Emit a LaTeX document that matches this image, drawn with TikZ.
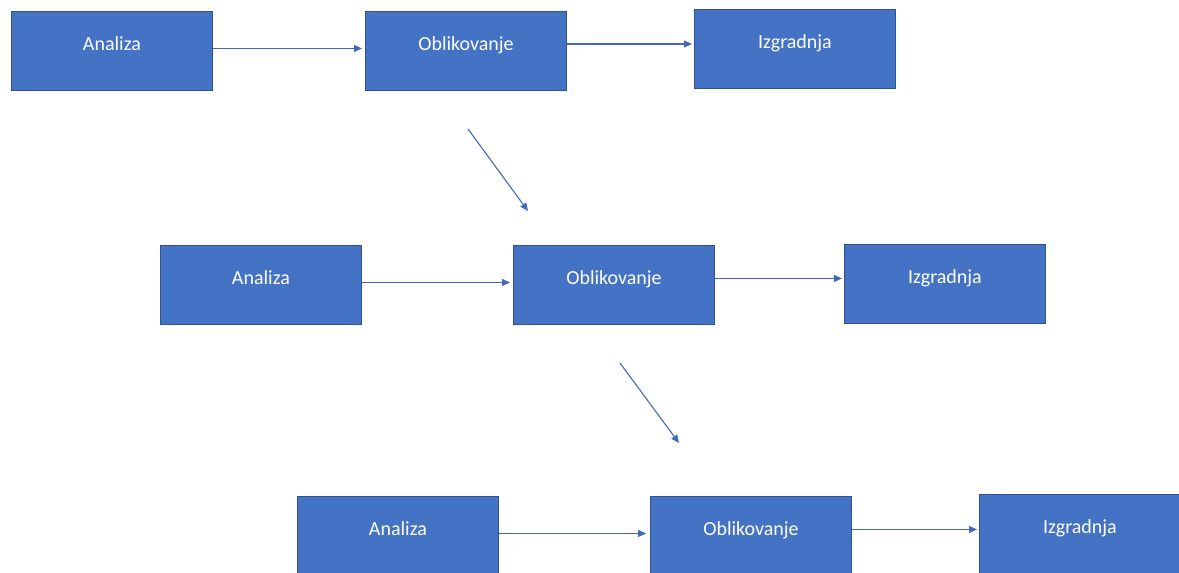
\documentclass[tikz,border=0pt]{standalone}
\usepackage{fontspec}
\setmainfont{Carlito}
\usetikzlibrary{arrows.meta}
\definecolor{boxblue}{HTML}{4472C4}
\definecolor{boxedge}{HTML}{2F528F}
\definecolor{linkblue}{HTML}{4468B8}
\begin{document}
\begin{tikzpicture}[x=1pt,y=-1pt,
  stage/.style={draw=boxedge, line width=0.9pt, fill=boxblue, text=white,
    minimum width=201pt, minimum height=79pt, inner sep=0pt, anchor=north west,
    font=\fontsize{20}{24}\selectfont, text height=9pt, text depth=9pt},
  conn/.style={draw=linkblue, line width=1.1pt, -{Triangle[length=8pt,width=7pt]}}]
\useasboundingbox (0,0) rectangle (1179,573);
\clip (0,0) rectangle (1179,573);
% row 1
\node[stage] (A1) at (11,11) {Analiza};
\node[stage] (O1) at (365,11) {Oblikovanje};
\node[stage] (I1) at (694,9) {Izgradnja};
% row 2
\node[stage] (A2) at (160,245) {Analiza};
\node[stage] (O2) at (513,245) {Oblikovanje};
\node[stage] (I2) at (844,244) {Izgradnja};
% row 3
\node[stage] (A3) at (297,496) {Analiza};
\node[stage] (O3) at (650,496) {Oblikovanje};
\node[stage] (I3) at (979,494) {Izgradnja};
% horizontal connectors
\draw[conn] ([yshift=2.5pt]A1.east) -- ([yshift=2.5pt,xshift=-3pt]O1.west);
\draw[conn] ([yshift=7pt]O1.east) -- ([yshift=5pt,xshift=-2pt]I1.west);
\draw[conn] ([yshift=2.5pt]A2.east) -- ([yshift=2.5pt,xshift=-3pt]O2.west);
\draw[conn] ([yshift=6.5pt]O2.east) -- ([yshift=5.5pt,xshift=-2pt]I2.west);
\draw[conn] ([yshift=2.5pt]A3.east) -- ([yshift=2.5pt,xshift=-4pt]O3.west);
\draw[conn] ([yshift=6.5pt]O3.east) -- ([yshift=4.5pt,xshift=-2pt]I3.west);
% diagonal connectors
\coordinate (d1s) at (468,129);
\coordinate (d1e) at (528,211);
\coordinate (d2s) at (620,363);
\coordinate (d2e) at (679,443);
\draw[conn] (d1s) -- (d1e);
\draw[conn] (d2s) -- (d2e);
\end{tikzpicture}
\end{document}
